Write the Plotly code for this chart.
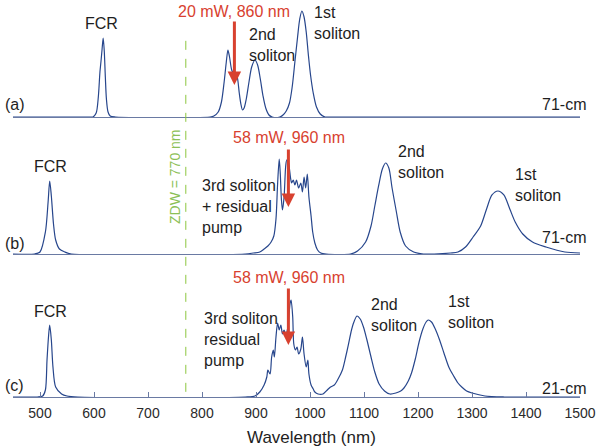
import plotly.graph_objects as go

# ---------------- data (wavelength nm, intensity a.u.) ----------------
wl_a = [450, 590, 598, 604, 608, 611, 613, 615, 617, 619, 621, 623, 626, 630, 640,
        815, 822, 830, 836, 841, 845, 848, 851, 855, 859, 863, 866, 869, 872, 875, 878,
        882, 887, 892, 898, 903, 908, 913, 918, 924, 930,
        944, 950, 956, 962, 967, 972, 977, 981, 985, 989, 993, 997, 1001, 1006, 1012,
        1019, 1028, 1040, 1500]
in_a = [0, 0, 0, 4, 20, 45, 56, 68, 79, 66, 40, 18, 5, 1, 0,
        0, 1, 5, 15, 35, 55, 67, 60, 47, 43, 44, 38, 24, 13, 7, 9,
        18, 35, 50, 57, 52, 38, 21, 9, 2, 0,
        0, 2, 6, 14, 30, 55, 80, 98, 106, 100, 85, 62, 42, 24, 10,
        3, 0, 0, 0]

wl_b = [450, 490, 500, 510, 515, 518, 521, 525, 529, 536, 546, 558,
        880, 895, 907, 915, 922, 928, 933, 937, 940, 943, 945, 947, 949, 952, 955, 957,
        960, 962, 964, 966, 969, 972, 975, 979, 983, 986, 989, 992, 995, 998, 1002, 1005,
        1009, 1014, 1020, 1030,
        1075, 1088, 1103, 1113, 1120, 1127, 1134, 1140, 1146, 1152, 1160, 1167, 1177,
        1192, 1210,
        1230, 1260, 1274, 1288, 1302, 1316, 1327, 1337, 1348, 1359, 1370, 1380, 1394,
        1412, 1437, 1472, 1500]
in_b = [0, 0, 2, 22, 52, 73, 58, 30, 14, 5, 2, 0,
        0, 1, 2, 5, 8, 12, 18, 35, 70, 95, 80, 55, 44, 57, 88, 94,
        92, 85, 76, 71, 74, 69, 74, 66, 71, 62, 77, 66, 80, 57, 38, 22,
        11, 4, 1, 0,
        0, 3, 12, 28, 48, 68, 85, 91, 86, 66, 42, 22, 8,
        2, 0,
        0, 1, 2, 7, 17, 28, 45, 59, 63, 59, 45, 32, 20,
        12, 7, 2, 1]

wl_c = [450, 495, 505, 510, 513, 516, 518, 521, 524, 529, 540, 550, 570,
        880, 898, 907, 915, 920, 922, 926, 929, 932, 934, 937, 940, 943, 946, 949, 952,
        955, 959, 963, 965, 968, 970, 973, 976, 979, 983, 986, 989, 993, 996, 998, 1002,
        1006, 1009, 1015, 1024, 1032, 1038, 1045, 1052, 1060, 1066, 1071, 1076, 1080,
        1087, 1093, 1099, 1105, 1113, 1120, 1128, 1138, 1148, 1159, 1168, 1174, 1182,
        1188, 1195, 1202, 1209, 1215, 1219, 1225, 1232, 1240, 1248, 1257, 1266, 1274,
        1281, 1290, 1300, 1324, 1360, 1500]
in_c = [0, 0, 1, 7, 37, 62, 72, 57, 30, 10, 3, 1, 0,
        0, 1, 5, 12, 20, 27, 23, 40, 47, 40, 60, 74, 67, 72, 63, 67,
        62, 70, 93, 97, 80, 53, 47, 50, 43, 48, 60, 43, 30, 37, 23, 12,
        8, 5, 3, 3, 7, 10, 12, 18, 27, 40, 52, 65, 73,
        81, 78, 70, 58, 40, 25, 13, 6, 3, 4, 6, 9, 16,
        24, 38, 55, 68, 75, 77, 75, 68, 57, 44, 30, 21, 14,
        10, 6, 4, 1, 0, 0]

tick_vals = [500, 600, 700, 800, 900, 1000, 1100, 1200, 1300, 1400, 1500]
zdw_nm = 770

# ---------------- style ----------------
LINE = "#27468c"
AXIS = "#6a7aa3"
RED = "#d8412f"
GREEN = "#8cc63f"
TXT = "#1e1e1e"
FONT = "Liberation Sans, Arial, sans-serif"

fig = go.Figure()
for wl, it, ya in [(wl_a, in_a, "y"), (wl_b, in_b, "y2"), (wl_c, in_c, "y3")]:
    xa = {"y": "x", "y2": "x2", "y3": "x3"}[ya]
    fig.add_trace(go.Scatter(x=wl, y=it, mode="lines", xaxis=xa, yaxis=ya,
                             line=dict(color=LINE, width=1.2, shape="spline", smoothing=0.8),
                             hoverinfo="skip", showlegend=False))

xcommon = dict(range=[450, 1500], showline=True, linecolor=AXIS, linewidth=1.2,
               showgrid=False, zeroline=False)
ycommon = dict(visible=False, showgrid=False, zeroline=False)

fig.update_layout(
    width=600, height=447,
    margin=dict(l=13, r=20, t=0, b=50),
    paper_bgcolor="white", plot_bgcolor="white",
    font=dict(family=FONT, size=16, color=TXT),
    xaxis=dict(**xcommon, anchor="y", showticklabels=False, ticks=""),
    yaxis=dict(**ycommon, domain=[0.7053, 1.0], range=[0, 117]),
    xaxis2=dict(**xcommon, anchor="y2", showticklabels=False, ticks=""),
    yaxis2=dict(**ycommon, domain=[0.3602, 0.6877], range=[0, 130]),
    xaxis3=dict(**xcommon, anchor="y3", tickvals=tick_vals, ticks="inside",
                ticklen=5, tickcolor=AXIS, ticklabelstandoff=3,
                tickfont=dict(size=14, color="#2a2a2a")),
    yaxis3=dict(**ycommon, domain=[0.0, 0.3275], range=[0, 130]),
)

# ZDW dashed line across all panels
fig.add_shape(type="line", xref="x3", yref="paper", x0=zdw_nm, x1=zdw_nm,
              y0=0.013, y1=0.904, line=dict(color=GREEN, width=1, dash="dash"))

ann = []
def label(text, x, y, yref, xanchor="center", color=TXT, size=16, xref=None, **kw):
    ann.append(dict(text=text, x=x, y=y, xref=xref or yref.replace("y", "x"), yref=yref,
                    xanchor=xanchor, yanchor="middle", showarrow=False, align="left",
                    font=dict(size=size, color=color, family=FONT), **kw))

def arrow(x, ytip, ytail, yref):
    xref = yref.replace("y", "x")
    ann.append(dict(text="", x=x, y=ytip, ax=x, ay=ytail, xref=xref, yref=yref,
                    axref=xref, ayref=yref, showarrow=True, arrowhead=2, arrowsize=0.9,
                    arrowwidth=3, arrowcolor=RED, standoff=0))

# panel (a)
label("FCR", 614, 94, "y")
label("20 mW, 860 nm", 967, 106, "y", xanchor="right", color=RED)
arrow(860, 32, 97, "y")
label("2nd<br>soliton", 883, 72, "y", xanchor="left")
label("1st<br>soliton", 1004, 94, "y", xanchor="left")
label("(a)", -0.018, 13, "y", xanchor="left", xref="paper")
label("71-cm", 1.0135, 13, "y", xanchor="right", xref="paper")

# panel (b)
label("FCR", 520, 87, "y2")
label("ZDW = 770 nm", 750, 77, "y2", color="#8cc056", size=14, textangle=-90)
label("58 mW, 960 nm", 1069, 116, "y2", xanchor="right", color=RED)
arrow(960, 47, 106, "y2")
label("3rd soliton<br>+ residual<br>pump", 796, 47, "y2", xanchor="left")
label("2nd<br>soliton", 1159, 92, "y2", xanchor="left")
label("1st<br>soliton", 1376, 69, "y2", xanchor="left")
label("(b)", -0.018, 11, "y2", xanchor="left", xref="paper")
label("71-cm", 1.0135, 17, "y2", xanchor="right", xref="paper")

# panel (c)
label("FCR", 520, 85, "y3")
label("58 mW, 960 nm", 1069, 119, "y3", xanchor="right", color=RED)
arrow(960, 52, 110, "y3")
label("3rd soliton<br>residual<br>pump", 800, 57, "y3", xanchor="left")
label("2nd<br>soliton", 1109, 82, "y3", xanchor="left")
label("1st<br>soliton", 1252, 85, "y3", xanchor="left")
label("(c)", -0.018, 12, "y3", xanchor="left", xref="paper")
label("21-cm", 1.0135, 9, "y3", xanchor="right", xref="paper")

# x-axis title
ann.append(dict(text="Wavelength (nm)", x=0.527, y=-0.1008, xref="paper", yref="paper",
                xanchor="center", yanchor="middle", showarrow=False,
                font=dict(size=17, color=TXT, family=FONT)))

fig.update_layout(annotations=ann)
fig.write_html("out.html", post_script="document.body.style.margin='0';",
               config={"displayModeBar": False})
